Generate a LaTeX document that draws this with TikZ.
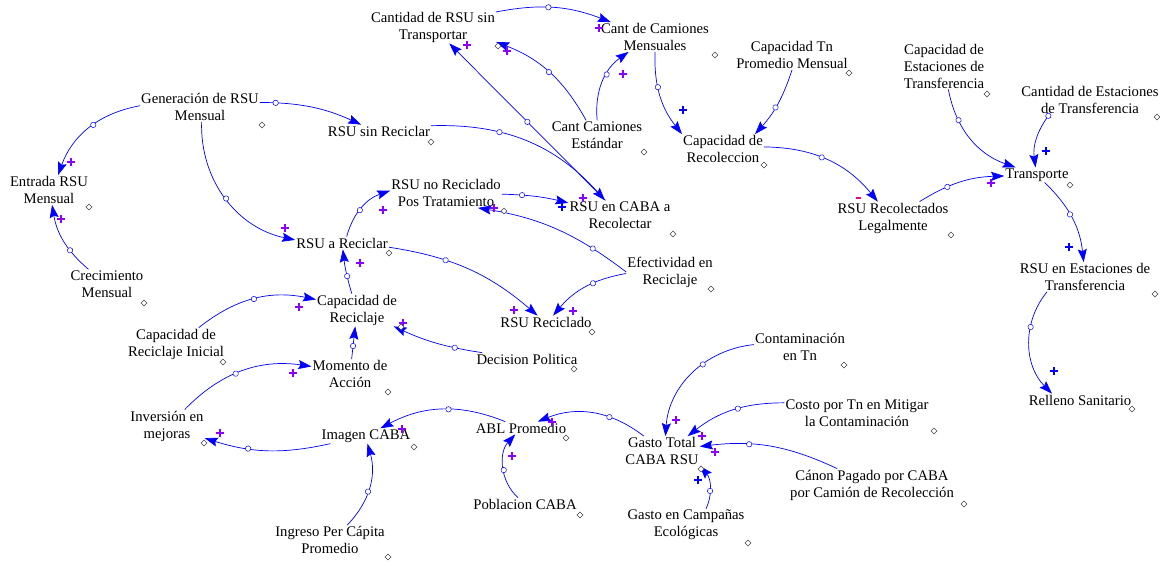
\documentclass[tikz,border=0pt]{standalone}
\usepackage{fontspec}
\setmainfont{Liberation Serif}
\usetikzlibrary{arrows.meta,decorations.markings}

\definecolor{sgnviolet}{RGB}{140,0,255}
\definecolor{dmdgray}{RGB}{70,70,70}

\tikzset{
  var/.style={align=center, inner sep=1pt, font=\fontsize{14.7}{17}\selectfont},
  hdl/.style={postaction={decorate,decoration={markings,
      mark=at position #1 with {\draw[blue,fill=white,line width=0.5pt] (0,0) circle (2.7);}}}},
  link/.style={blue, line width=0.7pt, -{Stealth[length=13pt,width=9pt,inset=2pt]}, hdl=#1},
  link/.default=0.5,
  sgn/.style={sgnviolet, line width=1.1pt},
  dmd/.style={dmdgray, fill=white, line width=0.5pt},
}

\begin{document}
\begin{tikzpicture}[x=1pt,y=-1pt]
		\useasboundingbox (0,0) rectangle (1160,562);
		% variables
		\node[var] (sintr) at (433,27) {Cantidad de RSU sin\\Transportar};
		\node[var] (camm) at (655,37) {Cant de Camiones\\Mensuales};
		\node[var] (captn) at (792,55) {Capacidad Tn\\Promedio Mensual};
		\node[var] (capest) at (944,66) {Capacidad de\\Estaciones de\\Transferencia};
		\node[var] (cantest) at (1090,100) {Cantidad de Estaciones\\de Transferencia};
		\node[var] (gen) at (200,107) {Generación de RSU\\Mensual};
		\node[var] (sinrec) at (379,131) {RSU sin Reciclar};
		\node[var] (came) at (597,135) {Cant Camiones\\Estándar};
		\node[var] (caprecol) at (723,149) {Capacidad de\\Recoleccion};
		\node[var] (entr) at (49,190) {Entrada RSU\\Mensual};
		\node[var] (norec) at (446,193) {RSU no Reciclado\\Pos Tratamiento};
		\node[var] (caba) at (620,215) {RSU en CABA a\\Recolectar};
		\node[var] (transp) at (1037,175) {Transporte};
		\node[var] (legal) at (893,218) {RSU Recolectados\\Legalmente};
		\node[var] (arec) at (342,243) {RSU a Reciclar};
		\node[var] (efec) at (670,272) {Efectividad en\\Reciclaje};
		\node[var] (estac) at (1085,277) {RSU en Estaciones de\\Transferencia};
		\node[var] (crec) at (107,284) {Crecimiento\\Mensual};
		\node[var] (caprec) at (357,310) {Capacidad de\\Reciclaje};
		\node[var] (recic) at (546,322) {RSU Reciclado};
		\node[var] (capini) at (176,344) {Capacidad de\\Reciclaje Inicial};
		\node[var] (decis) at (527,359) {Decision Politica};
		\node[var] (momen) at (350,374) {Momento de\\Acción};
		\node[var] (contam) at (800,347) {Contaminación\\en Tn};
		\node[var] (relleno) at (1080,400) {Relleno Sanitario};
		\node[var] (costo) at (857,413) {Costo por Tn en Mitigar\\la Contaminación};
		\node[var] (inver) at (167,426) {Inversión en\\mejoras};
		\node[var] (imagen) at (366,436) {Imagen CABA};
		\node[var] (abl) at (521,428) {ABL Promedio};
		\node[var] (gtot) at (662,451) {Gasto Total\\CABA RSU};
		\node[var] (canon) at (872,485) {Cánon Pagado por CABA\\por Camión de Recolección};
		\node[var] (pobl) at (525,504) {Poblacion CABA};
		\node[var] (campa) at (686,525) {Gasto en Campañas\\Ecológicas};
		\node[var] (ingreso) at (330,540) {Ingreso Per Cápita\\Promedio};
		%
		% links, left part
		\draw[link=.45] (gen) to[bend right=30] (entr);
		\draw[link=.15] (gen) to[bend left=12] (sinrec);
		\draw[link=.5] (gen) to[bend right=40] (arec);
		\draw[link=.35] (crec) to[bend left=20] (entr);
		\draw[link=.45] (arec) to[bend left=28] (norec);
		\draw[link=.35] (arec) to[bend left=16] (recic);
		\draw[link=.4] (caprec) to[bend left=5] (arec);
		\draw[link=.5] (capini) to[bend left=25] (caprec);
		\draw[link=.4] (momen) -- (caprec);
		\draw[link=.3] (decis) to[bend left=8] (caprec);
		\draw[link=.45] (inver) to[bend left=27] (momen);
		\draw[link=.65] (imagen) to[bend left=15] (inver);
		\draw[link=.45] (ingreso) to[bend right=30] (imagen);
		\draw[link=.45] (abl) to[bend right=25] (imagen);
		\draw[link=.45] (pobl) to[bend left=45] (abl);
		%
		% links, middle
		\draw[link=.35] (gtot) to[bend right=30] (abl);
		\draw[link=.4] (contam) to[bend right=40] (gtot);
		\draw[link=.45] (costo) to[bend right=19] (gtot);
		\draw[link=.65] (canon) to[bend right=16] (gtot);
		\draw[link=.4] ([xshift=20pt]campa.north) to[bend right=33] (gtot.south east);
		\draw[link=.25] (efec.west) to[bend right=14] ([xshift=32pt]norec.south);
		\draw[link=.4] (efec) to[bend right=20] (recic);
		\draw[link=.35] (sinrec) to[bend left=25] (caba);
		\draw[link=.3] (norec) to[bend left=6] (caba);
		\draw[link=.5] (caba) -- (sintr);
		\draw[link=.5] (came) to[bend right=20] (sintr);
		\draw[link=.6] (came) to[bend left=30] (camm);
		\draw[link=.45] (sintr) to[bend left=16] (camm);
		%
		% links, right part
		\draw[link=.4] (camm.south) to[bend right=20] (caprecol.north west);
		\draw[link=.55] (captn.south) to[bend left=12] ([xshift=32pt]caprecol.north);
		\draw[link=.45] (caprecol) to[bend left=25] (legal);
		\draw[link=.35] (legal) to[bend left=15] (transp);
		\draw[link=.3] (capest) to[bend right=30] (transp);
		\draw[link=.02] ([xshift=-41pt]cantest.south) to[bend right=22] (transp);
		\draw[link=.45] (transp) to[bend left=20] (estac);
		\draw[link=.35] ([xshift=-38pt]estac.south) to[bend right=42] ([xshift=-28pt]relleno.north);
		%
		% polarities
		\foreach \x/\y in {71/162,61/219,285/228,383/210,360/263,299/307,403/323,293/373,494/208,514/310,
		                   573/311,220/433,402/429,552/422,512/456,676/420,702/436,715/452,467/45,507/51,
		                   599/28,623/74,583/198,991/183}
			\draw[sgn] (\x,\y) +(-4,0) -- +(4,0) +(0,-4) -- +(0,4);
		\foreach \x/\y in {698/480,683/110,562/207,1046/151,1069/247,1054/371}
			\draw[sgn,blue] (\x,\y) +(-4,0) -- +(4,0) +(0,-4) -- +(0,4);
		\draw[sgn,magenta] (856,198) -- (861,198);
		%
		% small diamonds
		\foreach \x/\y in {262/125,89/207,144/303,498/46,715/55,849/73,987/94,1157/117,431/142,644/152,
		                   764/165,504/211,673/234,1070/185,951/235,389/253,711/289,1155/294,401/327,592/332,
		                   223/362,574/369,388/392,844/365,1132/409,934/431,204/443,414/447,566/438,701/469,
		                   964/504,580/515,748/543,388/557}
			\draw[dmd] (\x,\y) +(-3,0) -- +(0,-3) -- +(3,0) -- +(0,3) -- cycle;
	\end{tikzpicture}
\end{document}
